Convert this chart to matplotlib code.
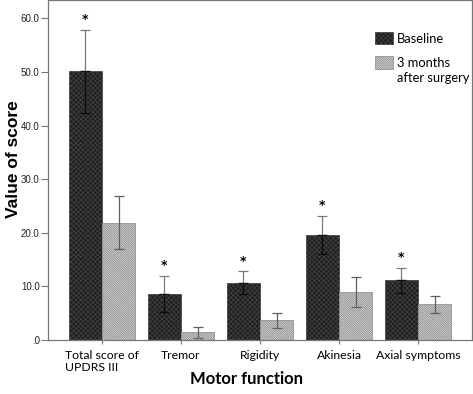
import matplotlib
matplotlib.use("Agg")
import matplotlib.pyplot as plt
import matplotlib.transforms as mtransforms
import numpy as np
from matplotlib.patches import Rectangle

categories = ["Total score of\nUPDRS III", "Tremor", "Rigidity", "Akinesia", "Axial symptoms"]
baseline = [50.1, 8.6, 10.7, 19.6, 11.1]
baseline_err = [7.7, 3.3, 2.1, 3.6, 2.3]
after = [21.9, 1.4, 3.7, 8.9, 6.7]
after_err = [4.9, 1.0, 1.4, 2.8, 1.6]
significant = [True, True, True, True, True]
yticks = [0, 10, 20, 30, 40, 50, 60]
ytick_labels = [".0", "10.0", "20.0", "30.0", "40.0", "50.0", "60.0"]
series_names = ["Baseline", "3 months\nafter surgery"]

# styling: horizontal nudges (pixels) of category labels, as in the original layout
label_nudge_px = [0, -13, -9, 0, 10]

plt.rcParams['hatch.linewidth'] = 0.6
fig = plt.figure(figsize=(4.73, 3.94), dpi=100)
ax = fig.add_axes([48/473, 1 - 340/394, (472 - 48)/473, 340/394 - 0.001])

x = np.arange(len(categories))
w = 0.42
dark_face, dark_hatch, dark_pat = "#1e1e1e", "#404040", "xxxxxxx"
light_face, light_hatch, light_pat = "#ffffff", "#858585", "\\" * 18

ax.bar(x - w/2, baseline, w, color=dark_face, edgecolor=dark_hatch, hatch=dark_pat,
       linewidth=0.5, zorder=2)
ax.bar(x + w/2, after, w, color=light_face, edgecolor=light_hatch, hatch=light_pat,
       linewidth=0.5, zorder=2)

ekw = dict(fmt="none", elinewidth=0.9, capsize=3.5, capthick=0.9, zorder=3)
zeros = [0] * len(baseline)
ax.errorbar(x - w/2, baseline, yerr=[zeros, baseline_err], ecolor="#7a7a7a", **ekw)
ax.errorbar(x - w/2, baseline, yerr=[baseline_err, zeros], ecolor="#0a0a0a", **ekw)
ax.errorbar(x + w/2, after, yerr=[after_err, after_err], ecolor="#5e5e5e", **ekw)

for xi, b, e, s in zip(x, baseline, baseline_err, significant):
    if s:
        ax.text(xi - w/2, b + e + 0.7, "*", ha="center", va="bottom",
                fontsize=9, fontweight="bold", color="black", family="DejaVu Sans")

ax.set_xlim(-0.684, 4.684)
ax.set_ylim(0, 63.35)
ax.set_yticks(yticks)
ax.set_yticklabels(ytick_labels, fontsize=7, family="Liberation Sans", color="#222222")
ax.set_xticks(x)
ax.set_xticklabels(categories, fontsize=8.8, family="Lato", ha="center", va="top",
                   multialignment="left", linespacing=1.15)
for lbl, dx in zip(ax.get_xticklabels(), label_nudge_px):
    lbl.set_transform(lbl.get_transform() + mtransforms.ScaledTranslation(dx / 100, 0, fig.dpi_scale_trans))
ax.tick_params(axis="y", direction="out", length=5, width=0.8, color="#777777", pad=1)
ax.tick_params(axis="x", direction="out", length=3, width=0.8, color="#777777", pad=4)
for sp in ax.spines.values():
    sp.set_color("#777777")
    sp.set_linewidth(0.9)

fig.text(13/473, 1 - 159/394, "Value of score", rotation=90, ha="center", va="center",
         fontsize=12.5, fontweight="bold", family="Liberation Sans")
fig.text(246/473, 1 - 379/394, "Motor function", ha="center", va="center",
         fontsize=12, fontweight="bold", family="Lato")

# legend (drawn manually so the swatch lines up with the first text line)
def ax_xy(px, py):
    return (px - 48) / 424, (340 - py) / 340

styles = [(dark_face, dark_hatch, dark_pat), (light_face, light_hatch, light_pat)]
swatch_tops = [31.7, 56.0]
for name, (fc, ec, hp), top in zip(series_names, styles, swatch_tops):
    x0, y1 = ax_xy(375, top)
    x1, y0 = ax_xy(393.3, top + 12.3)
    ax.add_patch(Rectangle((x0, y0), x1 - x0, y1 - y0, transform=ax.transAxes,
                           facecolor=fc, edgecolor=ec, hatch=hp, linewidth=0.5,
                           clip_on=False, zorder=4))
    for i, line in enumerate(name.split("\n")):
        tx, ty = ax_xy(396.7, top + 10.6 + i * 15.0)
        ax.text(tx, ty, line, transform=ax.transAxes, ha="left", va="baseline",
                fontsize=9.3, family="Lato", color="black")

fig.savefig("out.png", dpi=100)
